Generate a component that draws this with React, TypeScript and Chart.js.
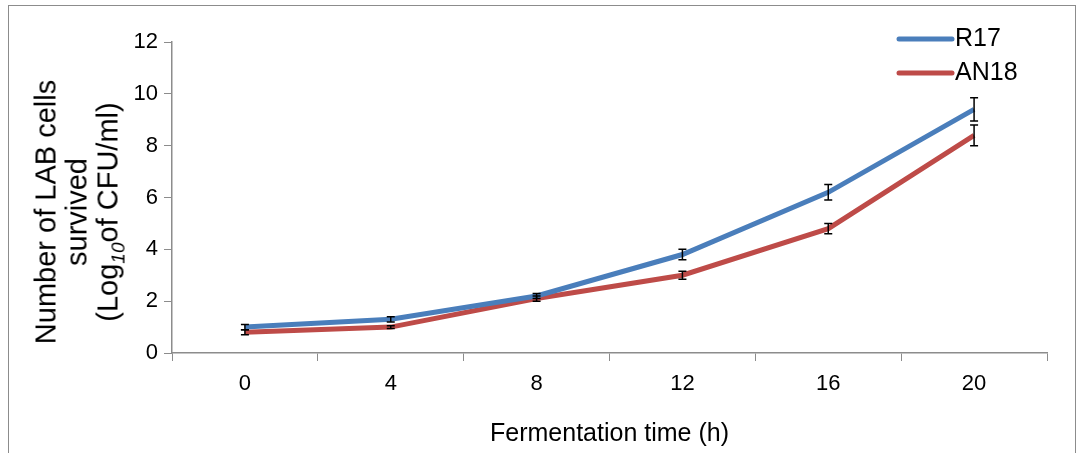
import React, { useEffect, useRef } from 'react';
import { Chart, registerables } from 'chart.js';

Chart.register(...registerables);

const hours = ['0', '4', '8', '12', '16', '20'];
const r17 = [1.0, 1.3, 2.2, 3.8, 6.2, 9.4];
const r17Err = [0.1, 0.1, 0.1, 0.2, 0.3, 0.45];
const an18 = [0.8, 1.0, 2.1, 3.0, 4.8, 8.4];
const an18Err = [0.1, 0.05, 0.1, 0.15, 0.2, 0.4];

const errorBars = {
  id: 'errorBars',
  afterDatasetsDraw(chart: any) {
    const ctx = chart.ctx;
    const y = chart.scales.y;
    ctx.save();
    ctx.strokeStyle = '#000';
    ctx.lineWidth = 1.5;
    chart.data.datasets.forEach((ds: any, i: number) => {
      const meta = chart.getDatasetMeta(i);
      meta.data.forEach((pt: any, j: number) => {
        const e = ds.errors[j];
        const top = y.getPixelForValue(ds.data[j] + e);
        const bot = y.getPixelForValue(ds.data[j] - e);
        ctx.beginPath();
        ctx.moveTo(pt.x, top); ctx.lineTo(pt.x, bot);
        ctx.moveTo(pt.x - 4, top); ctx.lineTo(pt.x + 4, top);
        ctx.moveTo(pt.x - 4, bot); ctx.lineTo(pt.x + 4, bot);
        ctx.stroke();
      });
    });
    ctx.restore();
  },
};

const legendPlugin = {
  id: 'insideLegend',
  afterDraw(chart: any) {
    const ctx = chart.ctx;
    ctx.save();
    ctx.font = '25px "Liberation Sans", Arial';
    ctx.textBaseline = 'middle';
    chart.data.datasets.forEach((ds: any, i: number) => {
      const yy = 39 + i * 34;
      ctx.strokeStyle = ds.borderColor;
      ctx.lineWidth = 5;
      ctx.lineCap = 'round';
      ctx.beginPath();
      ctx.moveTo(899, yy); ctx.lineTo(952, yy);
      ctx.stroke();
      ctx.fillStyle = '#000';
      ctx.fillText(ds.label, 955, yy);
    });
    ctx.restore();
  },
};

export default function App() {
  const ref = useRef<HTMLCanvasElement | null>(null);

  useEffect(() => {
    document.body.style.margin = '0';
    if (!ref.current) return;
    const chart = new Chart(ref.current, {
      type: 'line',
      data: {
        labels: hours,
        datasets: [
          { label: 'R17', data: r17, errors: r17Err, borderColor: '#4a7ebb', borderWidth: 5, pointRadius: 0, tension: 0 } as any,
          { label: 'AN18', data: an18, errors: an18Err, borderColor: '#be4b48', borderWidth: 5, pointRadius: 0, tension: 0 } as any,
        ],
      },
      options: {
        animation: false,
        responsive: false,
        layout: { padding: { top: 42, right: 34, left: 0, bottom: 0 } },
        plugins: { legend: { display: false }, tooltip: { enabled: false } },
        scales: {
          x: {
            offset: true,
            grid: { offset: true, drawOnChartArea: false, tickLength: 8, color: '#8c8c8c' },
            border: { color: '#8c8c8c', width: 1.5 },
            ticks: { color: '#000', font: { size: 22, family: '"Liberation Sans", Arial' }, padding: 10 },
            title: { display: true, text: 'Fermentation time (h)', color: '#000', font: { size: 25, family: '"Liberation Sans", Arial' }, padding: { top: 8 } },
            afterFit: (s: any) => { s.height = 100; },
          },
          y: {
            min: 0, max: 12,
            grid: { drawOnChartArea: false, tickLength: 8, color: '#8c8c8c' },
            border: { color: '#8c8c8c', width: 1.5 },
            ticks: { stepSize: 2, color: '#000', font: { size: 22, family: '"Liberation Sans", Arial' }, padding: 6 },
            afterFit: (s: any) => { s.width = 172; },
          },
        },
      },
      plugins: [errorBars, legendPlugin],
    });
    return () => chart.destroy();
  }, []);

  return (
    <div style={{ position: 'relative', width: 1081, height: 453, overflow: 'hidden', background: '#fff' }}>
      <div style={{ position: 'absolute', left: 8, top: 5, width: 1066, height: 460, border: '1px solid #8c8c8c' }} />
      <canvas ref={ref} width={1081} height={453} style={{ position: 'absolute', left: 0, top: 0 }} />
      <div style={{
        position: 'absolute', left: 77, top: 212, width: 400, transform: 'translate(-50%, -50%) rotate(-90deg)',
        textAlign: 'center', fontFamily: '"Liberation Sans", Arial', fontSize: 29, lineHeight: '31px', color: '#000',
      }}>
        Number of LAB cells<br />survived<br />(Log<sub style={{ fontStyle: 'italic', fontSize: 19, lineHeight: 0 }}>10</sub>of CFU/ml)
      </div>
    </div>
  );
}
